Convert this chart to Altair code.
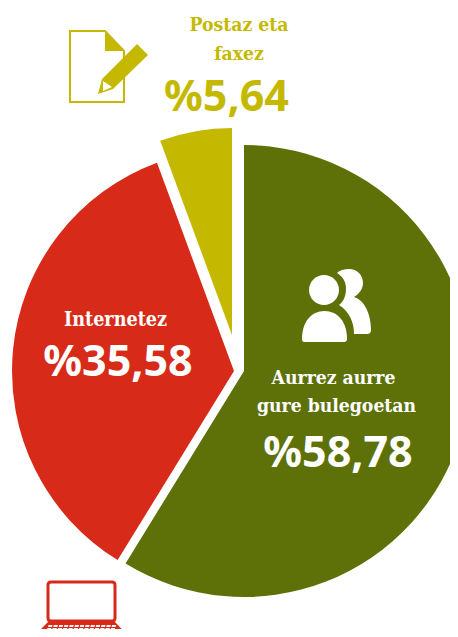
import altair as alt
import pandas as pd

categories = ["Aurrez aurre gure bulegoetan", "Internetez", "Postaz eta faxez"]
values = [58.78, 35.58, 5.64]
colors = ["#5e7109", "#d72a18", "#c4b900"]
centres = [(244, 371), (234, 371), (232, 335)]
radii = [226, 222, 207]
W, H = 442, 621

starts = [0, values[0], values[0] + values[1]]
df = pd.DataFrame({
    "cat": categories, "value": values,
    "start": starts, "end": [s + v for s, v in zip(starts, values)],
})

TAU = 6.283185307
layers = []
for i, c in enumerate(categories):
    cx, cy = centres[i]
    layers.append(
        alt.Chart(df[df.cat == c]).mark_arc(color=colors[i], radius=radii[i]).encode(
            theta=alt.Theta("start:Q", scale=alt.Scale(domain=[0, 100], range=[0, TAU])),
            theta2="end:Q",
            x=alt.value(cx - 8), y=alt.value(cy - 8),
        )
    )


def text(s, x, y, size, color, font, weight="bold"):
    return alt.Chart(pd.DataFrame({"t": [s]})).mark_text(
        font=font, fontSize=size, fontWeight=weight, color=color,
        align="center", baseline="alphabetic",
    ).encode(text="t:N", x=alt.value(x - 8), y=alt.value(y - 8))


SERIF = "DejaVu Serif Condensed"
NUM = "Noto Sans"
labels = [
    ("Postaz eta", 239, 31, 19.2, colors[2], SERIF),
    ("faxez", 239, 60, 19.2, colors[2], SERIF),
    ("%5,64", 226.5, 111, 43, colors[2], NUM),
    ("Internetez", 115.5, 326, 19.6, "white", SERIF),
    ("%35,58", 118, 376, 43, "white", NUM),
    ("Aurrez aurre", 333.5, 384, 19.2, "white", SERIF),
    ("gure bulegoetan", 336.5, 412, 19.2, "white", SERIF),
    ("%58,78", 338, 467, 43, "white", NUM),
]
layers += [text(*l) for l in labels]


def icon(d, fill=None, stroke=None, sw=0):
    kw = dict(shape=d, size=4, opacity=1)
    kw["fill"] = fill if fill else "transparent"
    kw["filled"] = True
    if stroke:
        kw["stroke"] = stroke
        kw["strokeWidth"] = sw
    return alt.Chart(pd.DataFrame({"a": [0]})).mark_point(**kw).encode(
        x=alt.value(-8), y=alt.value(-8))


yl, rd = colors[2], colors[1]
keys = ""
for row, (y0, n, xs) in enumerate([(625, 13, 48.5), (628, 13, 47.5)]):
    for k in range(n):
        x0 = xs + k * 5.3
        keys += f"M{x0:.1f},{y0}h4l-0.5,2h-4z"
icons = [
    icon("M124,102V51L105,31H70V102Z", None, yl, 2),
    icon("M105,31L124,50V51H105Z", yl),
    icon("M137,44L148,55L113,89L98,94L102,79Z", yl),
    icon("M103,81L112,87L103,91Z", "white"),
    icon("M51,582H112Q115,582 115,585V618Q115,621 112,621H51Q48,621 48,618V585Q48,582 51,582Z", None, rd, 3),
    icon("M48,622H115L129,637H33Z", rd),
    icon(keys, "white"),
    icon("M72,630H91L93,635H70Z", "white"),
    icon("M309,290A15,15 0 1,1 339,290A15,15 0 1,1 309,290Z", "white"),
    icon("M304,342Q302,342 302,339C302,322 311,311 324.5,311C338,311 347,322 347,339Q347,342 344,342Z", "white"),
    icon("M337,273C340,270 344,269 349,269C357,269 363,275 363,283C363,289 359,294 354,297C364,300 371,313 371,330Q371,334 367,334H354C354,322 349,311 339,305C344,301 346,296 346,288C346,281 342,276 337,273Z", "white"),
]
layers += icons

chart = alt.layer(*layers).properties(
    width=W, height=H, padding=0, autosize=alt.AutoSizeParams(type="none"),
    background="white",
).configure_view(stroke=None)

chart.save("out.html", embed_options={"renderer": "svg", "actions": False})
